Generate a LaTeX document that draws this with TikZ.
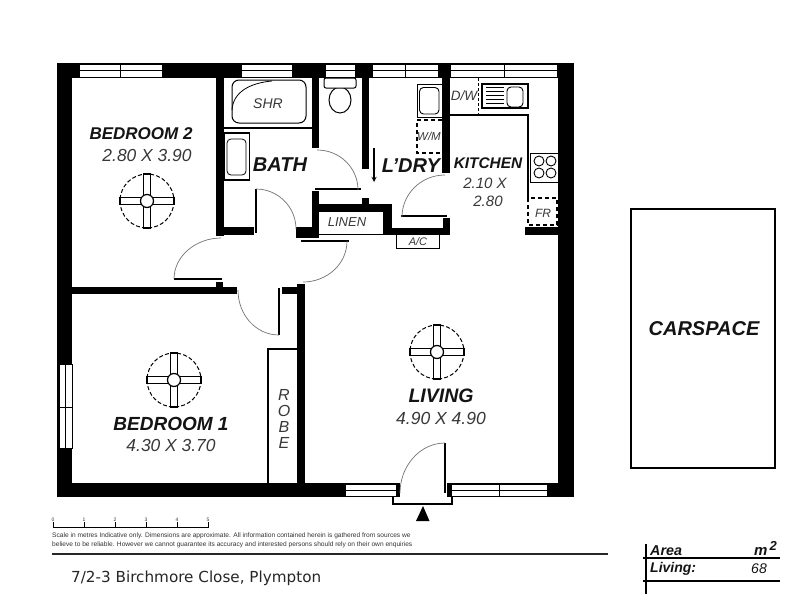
\documentclass[tikz,border=0pt]{standalone}
\usepackage{fontspec}
\setmainfont{Liberation Sans}
\newfontfamily\addrfont{DejaVu Sans}
\newcommand{\wallr}[4]{\fill[black] (#1,#2) rectangle (#3,#4);}
\newcommand{\hwin}[5]{\draw[glaze] (#1,#3) rectangle (#2,#4); \draw[glaze] (#1,{(#3+#4)/2}) -- (#2,{(#3+#4)/2}); \draw[glaze] (#5,#3) -- (#5,#4);}
\newcommand{\fan}[2]{\begin{scope}[shift={(#1,#2)}]
\draw[fanring] (0,0) circle (27);
\foreach \a in {0,90,180,270}{\draw[fanblade,rotate=\a] (0,-3.5) rectangle (27,3.5);}
\draw[fanblade] (0,0) circle (6.5);
\end{scope}}
\tikzset{
 glaze/.style={draw=black,fill=white,line width=0.8},
 swing/.style={draw=black!55,line width=0.7},
 leaf/.style={draw=black,line width=1.5},
 thin line/.style={draw=black,line width=1.5},
 fixture/.style={draw=black,line width=1,fill=white},
 fanring/.style={draw=black,line width=1,dash pattern=on 4pt off 2.2pt},
 fanblade/.style={draw=black,line width=1.2,fill=white},
 dashbox/.style={draw=black,line width=1.6,dash pattern=on 4pt off 3pt},
 room/.style={font=\fontsize{#1}{#1}\selectfont\bfseries\itshape,inner sep=0,text=black!92},
 dim/.style={font=\fontsize{#1}{#1}\selectfont\itshape,inner sep=0,text=black!78},
 small/.style={font=\fontsize{#1}{#1}\selectfont,inner sep=0,text=black!80}
}
\begin{document}
\begin{tikzpicture}[x=1pt,y=-1pt]
\useasboundingbox (0,0) rectangle (800,600);
\fill[white] (0,0) rectangle (800,600);
% outer walls
\wallr{57}{63}{574}{78}
\wallr{57}{483}{574}{497}
\wallr{57}{63}{72}{497}
\wallr{558}{63}{574}{497}
% top windows
\hwin{79}{162}{64}{77}{120}
\hwin{241}{292}{64}{77}{241}
\hwin{325}{355}{64}{77}{325}
\hwin{372}{438}{64}{77}{405}
\hwin{450}{557}{64}{77}{504}
% bedroom 1 window
\draw[glaze] (59,364) rectangle (72,448); \draw[glaze] (65,364) -- (65,448); \draw[glaze] (59,407) -- (72,407);
% bottom windows and entry
\hwin{345}{396}{484}{496}{345}
\hwin{451}{547}{484}{496}{499}
\fill[white] (400,482) rectangle (447,497.5);
\wallr{396}{483}{400}{497}
\wallr{447}{483}{451}{497}
\draw[thin line] (393,497) -- (393,504) -- (452,504) -- (452,497);
\fill[black] (423,506) -- (429.5,521) -- (416,521) -- cycle;
\draw[leaf] (445,443) -- (445,493);
\draw[swing] (445,443) .. controls (420,443) and (400,466) .. (400,493);
% interior walls
\wallr{216}{78}{224}{236}
\wallr{216}{227}{254}{235}
\wallr{57}{287}{237}{294}
\wallr{216}{282}{223}{287}
\wallr{282}{287}{305}{294}
\wallr{297}{284}{305}{483}
\wallr{296}{227}{319}{238}
\wallr{312}{191}{319}{238}
\wallr{312}{204}{392}{212}
\wallr{362}{198}{369}{204}
\wallr{383}{204}{392}{235}
\wallr{383}{228}{450}{235}
\wallr{443}{218}{450}{235}
\wallr{312}{78}{319}{148}
\wallr{362}{78}{369}{169}
\wallr{442}{78}{450}{173}
\wallr{525}{227}{558}{235}
% linen
\draw[line width=0.8] (319,234) -- (383,234);
% doors
\draw[leaf] (256,189) -- (256,233);
\draw[swing] (256,189) .. controls (278,189) and (296,207) .. (296,229);
\draw[leaf] (174,279) -- (222,279);
\draw[swing] (174,279) .. controls (174,256) and (196,238) .. (221,238);
\draw[leaf] (279,288) -- (279,335);
\draw[swing] (238,290) .. controls (238,315) and (256,335) .. (279,335);
\draw[leaf] (301,241) -- (349,241);
\draw[swing] (347,241) .. controls (347,264) and (327,282) .. (303,282);
\draw[leaf] (315,189) -- (361,189);
\draw[swing] (317,150) .. controls (340,150) and (358,168) .. (358,190);
\draw[leaf] (401,216) -- (447,216);
\draw[swing] (445,175) .. controls (421,175) and (402,194) .. (402,217);
% robe
\draw[thin line] (268,483) -- (268,349) -- (297,349);
% shower
\draw[thin line] (224,128) -- (312,128);
\draw[fixture,rounded corners=7] (232,80) rectangle (306,123);
\draw[line width=0.8] (232,110) .. controls (233,92) and (250,83) .. (272,81);
% bath basin
\draw[line width=1.3] (224,133) rectangle (249.5,180);
\draw[line width=0.8,rounded corners=4] (227,139) rectangle (246,175);
% toilet
\draw[fixture] (340,100) ellipse (11 and 13);
\draw[fixture,rounded corners=2] (324,78) rectangle (356,88);
% laundry
\draw[fixture] (417,84) rectangle (442,117);
\draw[line width=0.9,rounded corners=4] (419.5,87.5) rectangle (439,114);
\draw[dashbox] (442,120) -- (417,120) -- (417,153) -- (442,153);
\draw[->,>=stealth,line width=1.3] (374,148) -- (374,182);
% kitchen
\draw[thin line] (450,115) -- (528,115) -- (528,198);
\draw[line width=1,dash pattern=on 3pt off 2pt] (478,78) -- (478,115);
\draw[fixture,line width=1.3] (482,84) rectangle (528,108);
\draw[line width=0.9,rounded corners=4] (507,87) rectangle (523,107);
\foreach \yy in {87.5,91.5,95.5,99.5,103.5}{\draw[line width=0.7] (486,\yy) -- (504,\yy);}
\draw[line width=1] (530,153) rectangle (558,182);
\foreach \cx/\cy in {539/161,551/161,539/173,551/173}{\draw[line width=0.9] (\cx,\cy) circle (5);}
\draw[dashbox] (528,198) rectangle (557,225);
% A/C
\draw[line width=0.9] (396,235) -- (396,248) -- (439,248) -- (439,235);
% fans
\fan{147}{201}
\fan{174}{380}
\fan{437}{352}
% carspace
\draw[line width=1.6] (631,209) rectangle (775,468);
% labels
\node[room=17] (bed2) at (141,134) {BEDROOM 2};
\node[dim=17.4] (bed2d) at (147,156) {2.80 X 3.90};
\node[room=20] (bath) at (280,165) {BATH};
\node[dim=14] (shr) at (268,104) {SHR};
\node[room=20] (ldry) at (411,166) {L’DRY};
\node[room=15.4] (kit) at (488,163) {KITCHEN};
\node[dim=15] (kitd1) at (485,183) {2.10 X};
\node[dim=15] (kitd2) at (488,201) {2.80};
\node[dim=12] (fr) at (543,213) {FR};
\node[dim=13] (linen) at (347,222) {LINEN};
\node[dim=11] (ac) at (418,242) {A/C};
\node[dim=13.5] (dw) at (464,96) {D/W};
\node[dim=11.5] (wm) at (429,136) {W/M};
\node[room=19] (bed1) at (171,424) {BEDROOM 1};
\node[dim=17.4] (bed1d) at (171,446) {4.30 X 3.70};
\node[dim=16] (r1) at (284,395) {R};
\node[dim=16] (r2) at (284,411) {O};
\node[dim=16] (r3) at (284,427) {B};
\node[dim=16] (r4) at (284,443) {E};
\node[room=19.5] (liv) at (441,396) {LIVING};
\node[dim=17.5] (livd) at (441,418) {4.90 X 4.90};
\node[room=20] (car) at (704,329) {CARSPACE};
% scale
\draw[line width=1] (53,527) -- (208,527);
\foreach \xx/\t in {53/0,84/1,115/2,146/3,177/4,208/5}{\draw[line width=1] (\xx,522) -- (\xx,528); \node[small=5,anchor=center] (t\t) at (\xx,520) {\t};}
\node[small=6.6,anchor=west] (note1) at (52,536) {Scale in metres Indicative only. Dimensions are approximate. All information contained herein is gathered from sources we};
\node[small=6.6,anchor=west] (note2) at (52,545) {believe to be reliable. However we cannot guarantee its accuracy and interested persons should rely on their own enquiries};
\draw[line width=1.2,black!85] (52,554) -- (608,554);
\node[anchor=west,inner sep=0,text=black!85,font=\addrfont\fontsize{15.2}{15.2}\selectfont] (addr) at (71,578) {7/2-3 Birchmore Close, Plympton};
% area table
\draw[line width=1.5] (646,544) -- (646,594);
\draw[line width=1.3] (643,558) -- (780,558);
\draw[line width=1.3] (643,581) -- (780,581);
\node[room=14.3,anchor=west] (area) at (650,551) {Area};
\node[room=15,anchor=west] (m2) at (754,551) {m};
\node[room=13,anchor=west] (sq) at (769.5,546) {2};
\node[room=14,anchor=west] (living) at (650,569) {Living:};
\node[inner sep=0,font=\fontsize{14}{14}\selectfont\itshape,text=black!92] (sixty) at (759,569) {68};
\end{tikzpicture}
\end{document}
